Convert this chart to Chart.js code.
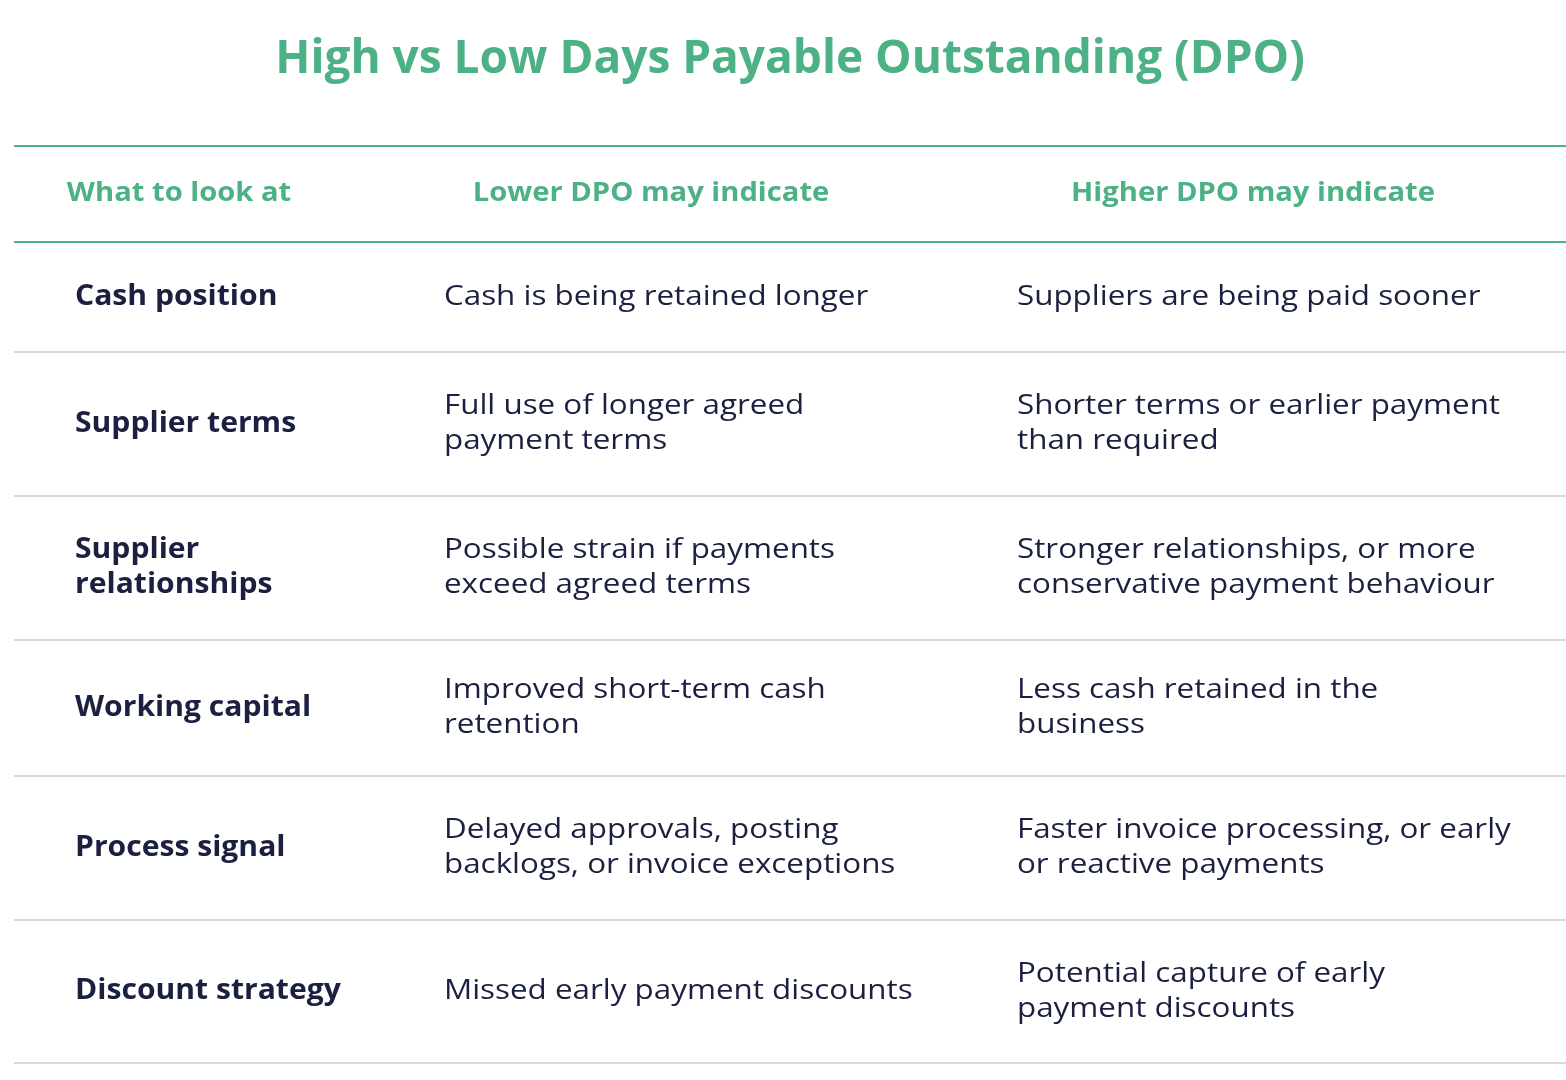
<!DOCTYPE html>
<html><head><meta charset="utf-8">
<script src="https://cdn.jsdelivr.net/npm/chart.js@4/dist/chart.umd.min.js"></script>
<style>html,body{margin:0;padding:0;background:#fff}#wrap{width:1566px;height:1080px}</style>
</head><body><div id="wrap"><canvas id="c"></canvas></div>
<script>
const title = "High vs Low Days Payable Outstanding (DPO)";
const headers = ["What to look at", "Lower DPO may indicate", "Higher DPO may indicate"];
const categories = ["Cash position", "Supplier terms", "Supplier\nrelationships", "Working capital", "Process signal", "Discount strategy"];
const lowerDPO = ["Cash is being retained longer", "Full use of longer agreed\npayment terms", "Possible strain if payments\nexceed agreed terms", "Improved short-term cash\nretention", "Delayed approvals, posting\nbacklogs, or invoice exceptions", "Missed early payment discounts"];
const higherDPO = ["Suppliers are being paid sooner", "Shorter terms or earlier payment\nthan required", "Stronger relationships, or more\nconservative payment behaviour", "Less cash retained in the\nbusiness", "Faster invoice processing, or early\nor reactive payments", "Potential capture of early\npayment discounts"];

// layout (style, not data)
const L = { rowEdges: [242, 352, 496, 640, 776, 920, 1063], topLine: 146, headerY: 193, colX: [75, 444, 1017], headCenter: [179, 651, 1253], lineL: 14, lineR: 1566 };
const GREEN = "#4cb185", NAVY = "#1b2040", FONT = "'Open Sans', 'DejaVu Sans', sans-serif";

function drawScaled(ctx, txt, x, y, sx, align) {
  ctx.save();
  ctx.translate(x, y); ctx.scale(sx, 1);
  ctx.textAlign = align;
  ctx.fillText(txt, 0, 0);
  ctx.restore();
}

const tablePlugin = {
  id: 'table',
  afterDraw(chart) {
    const ctx = chart.ctx, xs = chart.scales.x, ys = chart.scales.y;
    const px = v => xs.getPixelForValue(v), py = v => ys.getPixelForValue(v);
    ctx.save();
    ctx.textBaseline = 'middle';
    ctx.fillStyle = GREEN;
    ctx.font = "bold 46px " + FONT;
    drawScaled(ctx, title, px(790), py(60), 1.0, 'center');
    ctx.font = "bold 27px " + FONT;
    headers.forEach((h, i) => drawScaled(ctx, h, px(L.headCenter[i]), py(L.headerY), 1.08, 'center'));
    const hline = (y, c, w) => { ctx.strokeStyle = c; ctx.lineWidth = w; ctx.beginPath(); ctx.moveTo(px(L.lineL), py(y)); ctx.lineTo(px(L.lineR), py(y)); ctx.stroke(); };
    hline(L.topLine, GREEN, 2); hline(L.rowEdges[0], GREEN, 2);
    for (let i = 1; i < L.rowEdges.length; i++) hline(L.rowEdges[i], "#c9ccd6", 1.5);
    ctx.fillStyle = NAVY;
    const cell = (txt, col, r, bold) => {
      const lines = txt.split("\n"), lh = 35;
      const mid = (L.rowEdges[r] + L.rowEdges[r + 1]) / 2;
      ctx.font = (bold ? "bold " : "") + "28px " + FONT;
      lines.forEach((ln, k) => drawScaled(ctx, ln, px(L.colX[col]), py(mid + (k - (lines.length - 1) / 2) * lh), bold ? 1.075 : 1.12, 'left'));
    };
    categories.forEach((c, r) => { cell(c, 0, r, true); cell(lowerDPO[r], 1, r, false); cell(higherDPO[r], 2, r, false); });
    ctx.restore();
  }
};

new Chart(document.getElementById('c'), {
  type: 'scatter',
  data: { datasets: [{ data: categories.map(() => ({ x: -10, y: -10 })), pointRadius: 0 }] },
  options: {
    responsive: true, maintainAspectRatio: false, animation: false,
    layout: { padding: 0 },
    plugins: { legend: { display: false }, tooltip: { enabled: false } },
    scales: {
      x: { type: 'linear', min: 0, max: 1566, display: false },
      y: { type: 'linear', min: 0, max: 1080, reverse: true, display: false }
    }
  },
  plugins: [tablePlugin]
});
</script></body></html>
